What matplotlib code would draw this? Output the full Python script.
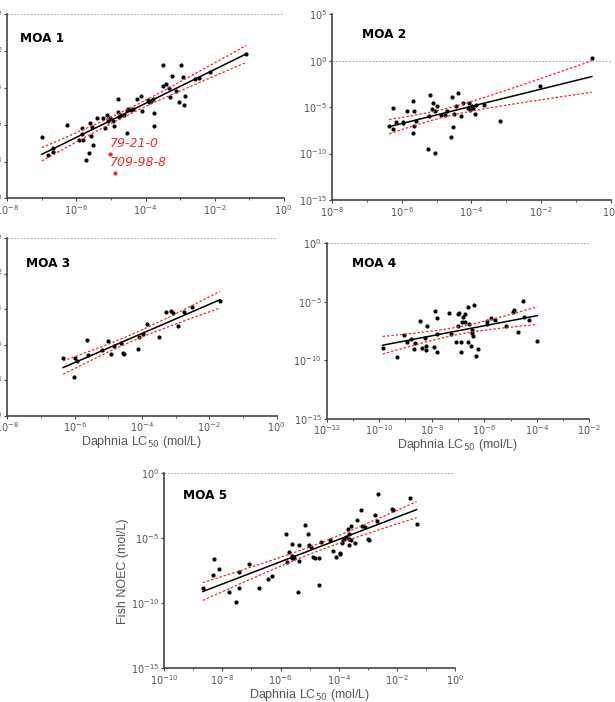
import numpy as np
import matplotlib
matplotlib.use("Agg")
import matplotlib.pyplot as plt
from matplotlib.ticker import FixedLocator, FuncFormatter, LogLocator, NullFormatter

# log10 values
moa1_x = [-7.0, -6.83, -6.69, -6.67, -6.28, -5.92, -5.85, -5.84, -5.82, -5.72, -5.64, -5.61, -5.59,
          -5.55, -5.51, -5.40, -5.22, -5.16, -5.11, -5.10, -5.02, -4.94, -4.90, -4.81, -4.79, -4.76,
          -4.72, -4.62, -4.54, -4.53, -4.50, -4.42, -4.35, -4.25, -4.14, -4.09, -3.93, -3.91, -3.85,
          -3.79, -3.75, -3.75, -3.49, -3.49, -3.42, -3.33, -3.30, -3.24, -3.12, -3.02, -2.97, -2.92,
          -2.89, -2.87, -2.57, -2.45, -2.13, -1.08]
moa1_y = [-6.67, -7.64, -7.24, -7.47, -6.02, -6.82, -6.16, -6.49, -6.82, -7.91, -7.55, -5.91, -6.64,
          -6.13, -7.11, -5.65, -5.65, -6.18, -5.47, -5.80, -5.62, -5.82, -6.09, -4.60, -5.31, -5.58,
          -5.47, -5.49, -5.22, -6.47, -5.13, -5.18, -5.15, -4.58, -4.44, -5.24, -4.65, -4.78, -4.69,
          -4.62, -5.36, -6.07, -2.76, -3.91, -3.80, -4.00, -4.51, -3.33, -4.16, -4.75, -2.76, -3.42,
          -4.91, -4.42, -3.49, -3.45, -3.11, -2.15]
moa1_out_x = [-5.02, -4.89]
moa1_out_y = [-7.58, -8.60]
moa1_out_names = ["79-21-0", "709-98-8"]

moa2_x = [-6.36, -6.25, -6.25, -6.16, -5.97, -5.96, -5.85, -5.68, -5.68, -5.64, -5.64, -5.58, -5.24,
          -5.22, -5.18, -5.14, -5.10, -5.05, -5.04, -4.99, -4.86, -4.77, -4.71, -4.60, -4.55, -4.53,
          -4.50, -4.45, -4.38, -4.31, -4.23, -4.10, -4.07, -4.03, -3.99, -3.95, -3.90, -3.87, -3.63,
          -3.17, -2.05, -0.55]
moa2_y = [-7.0, -5.13, -7.36, -6.57, -6.57, -6.71, -5.42, -4.38, -7.79, -5.38, -7.0, -6.53, -9.48,
          -5.99, -3.66, -5.20, -4.59, -5.38, -9.94, -4.88, -5.89, -5.89, -5.46, -8.18, -3.91, -7.18,
          -5.71, -4.88, -3.52, -5.92, -4.52, -5.13, -4.56, -5.35, -4.85, -5.06, -5.71, -4.77, -4.74,
          -6.50, -2.73, 0.32]

moa3_x = [-6.34, -6.02, -5.98, -5.92, -5.64, -5.60, -5.19, -5.01, -4.91, -4.83, -4.63, -4.57, -4.53,
          -4.12, -4.08, -3.98, -3.84, -3.49, -3.29, -3.15, -3.07, -2.93, -2.75, -2.52, -1.69]
moa3_y = [-6.74, -7.84, -6.74, -6.94, -5.74, -6.60, -6.30, -5.80, -6.55, -6.10, -5.93, -6.45, -6.51,
          -6.25, -5.55, -5.40, -4.86, -5.55, -4.17, -4.09, -4.24, -4.93, -4.17, -3.86, -3.55]

moa4_x = [-9.87, -9.31, -9.04, -8.94, -8.79, -8.66, -8.64, -8.43, -8.37, -8.24, -8.23, -8.21, -8.19,
          -7.91, -7.86, -7.80, -7.79, -7.79, -7.33, -7.25, -7.08, -7.00, -7.00, -6.97, -6.90, -6.90,
          -6.86, -6.82, -6.73, -6.72, -6.62, -6.61, -6.57, -6.49, -6.45, -6.45, -6.44, -6.38, -6.33,
          -6.25, -5.91, -5.90, -5.73, -5.58, -5.19, -4.91, -4.85, -4.70, -4.54, -4.50, -4.30, -3.98]
moa4_y = [-8.97, -9.72, -7.83, -8.46, -8.21, -9.03, -8.49, -6.64, -8.92, -8.12, -8.80, -9.17, -7.09,
          -8.83, -5.78, -6.38, -7.75, -9.32, -5.95, -7.78, -8.43, -7.09, -6.04, -5.95, -8.43, -9.26,
          -6.70, -6.32, -6.04, -6.75, -8.43, -5.44, -6.92, -8.80, -7.41, -7.69, -7.92, -5.24, -9.63,
          -9.03, -6.61, -6.92, -6.41, -6.55, -7.09, -5.84, -5.73, -7.58, -4.93, -6.32, -6.58, -8.35]

moa5_x = [-8.67, -8.32, -8.27, -8.12, -7.76, -7.53, -7.44, -7.41, -7.09, -6.75, -6.42, -6.28, -5.83,
          -5.77, -5.70, -5.62, -5.61, -5.59, -5.56, -5.54, -5.40, -5.38, -5.37, -5.17, -5.06, -5.01,
          -4.97, -4.90, -4.81, -4.69, -4.69, -4.61, -4.30, -4.21, -4.08, -3.96, -3.95, -3.89, -3.84,
          -3.81, -3.76, -3.68, -3.66, -3.65, -3.64, -3.59, -3.57, -3.46, -3.39, -3.25, -3.19, -3.10,
          -3.01, -2.95, -2.76, -2.68, -2.65, -2.16, -2.15, -1.56, -1.33]
moa5_y = [-8.79, -7.82, -6.59, -7.38, -9.15, -9.87, -8.85, -7.59, -6.97, -8.79, -8.10, -7.87, -4.64,
          -6.82, -6.05, -5.44, -6.38, -6.54, -6.41, -6.51, -9.13, -5.54, -6.74, -3.97, -4.64, -5.49,
          -5.64, -6.44, -6.54, -8.62, -6.54, -5.31, -5.13, -6.00, -6.41, -6.15, -6.23, -5.38, -5.15,
          -5.03, -4.92, -4.26, -5.51, -5.08, -4.69, -5.15, -4.05, -5.36, -3.62, -2.82, -4.05, -4.10,
          -5.03, -5.13, -3.21, -3.64, -1.56, -2.74, -2.85, -1.90, -3.92]

GRAY = "#555555"
RED = "#ee2a2a"


def fit_band(lx, ly):
    lx = np.asarray(lx)
    ly = np.asarray(ly)
    b, a = np.polyfit(lx, ly, 1)
    n = len(lx)
    resid = ly - (a + b * lx)
    s = np.sqrt(np.sum(resid ** 2) / (n - 2))
    sxx = np.sum((lx - lx.mean()) ** 2)
    xs = np.linspace(lx.min(), lx.max(), 100)
    ys = a + b * xs
    half = 2.01 * s * np.sqrt(1.0 / n + (xs - lx.mean()) ** 2 / sxx)
    return xs, ys, ys - half, ys + half


def style_axes(ax, xlim, ylim, xstep, ystep):
    ax.set_xscale("log")
    ax.set_yscale("log")
    ax.set_xlim(10.0 ** xlim[0], 10.0 ** xlim[1])
    ax.set_ylim(10.0 ** ylim[0], 10.0 ** ylim[1])
    xt = [10.0 ** e for e in range(xlim[0], xlim[1] + 1, xstep)]
    yt = [10.0 ** e for e in range(ylim[0], ylim[1] + 1, ystep)]
    fmt = FuncFormatter(lambda v, p: r"$10^{%d}$" % round(np.log10(v)))
    ax.xaxis.set_major_locator(FixedLocator(xt))
    ax.yaxis.set_major_locator(FixedLocator(yt))
    ax.xaxis.set_major_formatter(fmt)
    ax.yaxis.set_major_formatter(fmt)
    ax.xaxis.set_minor_locator(LogLocator(base=10, subs=[1.0], numticks=30))
    ax.xaxis.set_minor_formatter(NullFormatter())
    ax.yaxis.set_minor_locator(FixedLocator([]))
    for side in ["top", "right"]:
        ax.spines[side].set_visible(False)
    for side in ["left", "bottom"]:
        ax.spines[side].set_color("#444444")
        ax.spines[side].set_linewidth(1.2)
    ax.tick_params(axis="both", which="major", length=2.5, width=0.8, color="#444444",
                   labelsize=7, labelcolor=GRAY, pad=1)
    ax.tick_params(axis="x", which="minor", length=1.5, width=0.6, color="#444444")
    ax.axhline(1.0, color="#aaaaaa", lw=0.8, ls=(0, (1.5, 1.5)), zorder=1)


def draw_panel(ax, lx, ly, title, tpos):
    xs, ys, lo, hi = fit_band(lx, ly)
    ax.plot(10.0 ** np.asarray(lx), 10.0 ** np.asarray(ly), "o", color="black", ms=2.0, zorder=3)
    ax.plot(10.0 ** xs, 10.0 ** ys, color="black", lw=1.1, zorder=4)
    ax.plot(10.0 ** xs, 10.0 ** lo, color=RED, lw=0.9, ls=(0, (2, 1.5)), zorder=4)
    ax.plot(10.0 ** xs, 10.0 ** hi, color=RED, lw=0.9, ls=(0, (2, 1.5)), zorder=4)
    ax.text(tpos[0], tpos[1], title, transform=ax.transAxes, fontsize=8.7,
            fontweight="bold", ha="left", va="center", color="black")


fig = plt.figure(figsize=(6.15, 7.02), dpi=100)
fig.patch.set_facecolor("white")

xlabel = r"Daphnia LC$_{50}$ (mol/L)"

ax1 = fig.add_axes([0.0119, 0.7175, 0.4494, 0.2621])
style_axes(ax1, (-8, 0), (-10, 0), 2, 2)
draw_panel(ax1, moa1_x, moa1_y, "MOA 1", (0.046, 0.87))
ax1.plot(10.0 ** np.asarray(moa1_out_x), 10.0 ** np.asarray(moa1_out_y), "o", color=RED, ms=2.0, zorder=3)
ax1.text(10.0 ** -5.02, 10.0 ** -7.04, moa1_out_names[0], color=RED, fontsize=9,
         style="italic", ha="left", va="center")
ax1.text(10.0 ** -5.02, 10.0 ** -8.04, moa1_out_names[1], color=RED, fontsize=9,
         style="italic", ha="left", va="center")

ax2 = fig.add_axes([0.5398, 0.7151, 0.4537, 0.2645])
style_axes(ax2, (-8, 0), (-15, 5), 2, 5)
draw_panel(ax2, moa2_x, moa2_y, "MOA 2", (0.106, 0.889))

ax3 = fig.add_axes([0.0119, 0.4078, 0.438, 0.2531])
style_axes(ax3, (-8, 0), (-10, 0), 2, 2)
draw_panel(ax3, moa3_x, moa3_y, "MOA 3", (0.069, 0.854))
ax3.set_xlabel(xlabel, fontsize=9, color=GRAY, family="Liberation Sans", labelpad=0)

ax4 = fig.add_axes([0.5312, 0.4036, 0.427, 0.2499])
style_axes(ax4, (-12, -2), (-15, 0), 2, 5)
draw_panel(ax4, moa4_x, moa4_y, "MOA 4", (0.095, 0.882))
ax4.set_xlabel(xlabel, fontsize=9, color=GRAY, family="Liberation Sans", labelpad=0)

ax5 = fig.add_axes([0.2667, 0.048, 0.4737, 0.2778])
style_axes(ax5, (-10, 0), (-15, 0), 2, 5)
draw_panel(ax5, moa5_x, moa5_y, "MOA 5", (0.066, 0.885))
ax5.set_xlabel(xlabel, fontsize=9, color=GRAY, family="Liberation Sans", labelpad=0)
ax5.set_ylabel("Fish NOEC (mol/L)", fontsize=9, color=GRAY, family="Liberation Sans", labelpad=1)

fig.savefig("out.png", dpi=100)
